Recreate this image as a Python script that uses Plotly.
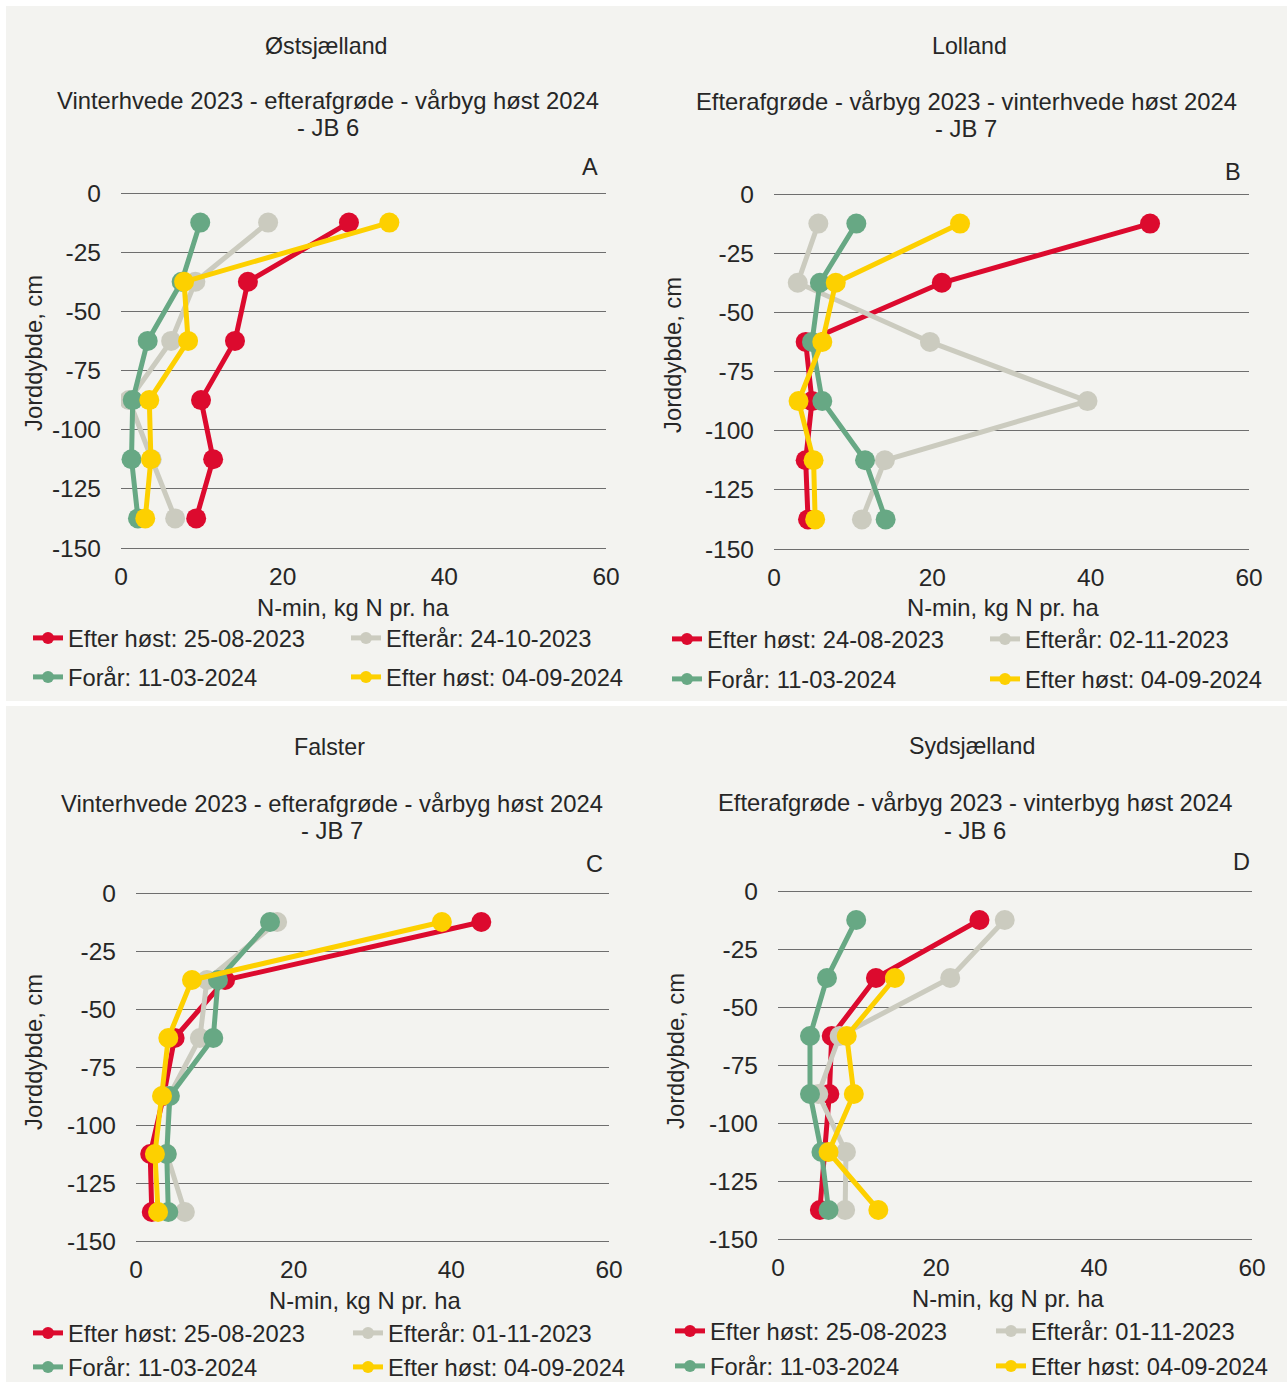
import plotly.graph_objects as go

W, H = 1287, 1382
FONT = "Liberation Sans, Arial, sans-serif"

depth = [-12.5, -37.5, -62.5, -87.5, -112.5, -137.5]

regions = ["Østsjælland", "Lolland", "Falster", "Sydsjælland"]
subtitles = [
    ["Vinterhvede 2023 - efterafgrøde - vårbyg høst 2024", "- JB 6"],
    ["Efterafgrøde - vårbyg 2023 - vinterhvede høst 2024", "- JB 7"],
    ["Vinterhvede 2023 - efterafgrøde - vårbyg høst 2024", "- JB 7"],
    ["Efterafgrøde - vårbyg 2023 - vinterbyg høst 2024", "- JB 6"],
]
letters = ["A", "B", "C", "D"]
x_title = "N-min, kg N pr. ha"
y_title = "Jorddybde, cm"

labels_A = ["Efter høst: 25-08-2023", "Efterår: 24-10-2023", "Forår: 11-03-2024", "Efter høst: 04-09-2024"]
labels_B = ["Efter høst: 24-08-2023", "Efterår: 02-11-2023", "Forår: 11-03-2024", "Efter høst: 04-09-2024"]
labels_C = ["Efter høst: 25-08-2023", "Efterår: 01-11-2023", "Forår: 11-03-2024", "Efter høst: 04-09-2024"]
labels_D = ["Efter høst: 25-08-2023", "Efterår: 01-11-2023", "Forår: 11-03-2024", "Efter høst: 04-09-2024"]

# N-min values, kg N pr. ha  (order: red, grey, green, yellow)
A_red = [28.2, 15.7, 14.1, 9.9, 11.4, 9.3]
A_grey = [18.2, 9.2, 6.2, 1.0, 3.8, 6.7]
A_green = [9.8, 7.5, 3.3, 1.45, 1.3, 2.1]
A_yellow = [33.2, 7.8, 8.3, 3.5, 3.7, 3.0]

B_red = [47.5, 21.2, 4.0, 4.8, 4.0, 4.3]
B_grey = [5.6, 3.0, 19.7, 39.6, 14.0, 11.1]
B_green = [10.4, 5.8, 4.8, 6.1, 11.5, 14.1]
B_yellow = [23.5, 7.8, 6.1, 3.1, 5.0, 5.2]

C_red = [43.8, 11.3, 4.9, 3.5, 1.8, 2.0]
C_grey = [17.9, 9.0, 8.1, 4.2, 3.9, 6.2]
C_green = [17.0, 10.4, 9.8, 4.3, 3.9, 4.1]
C_yellow = [38.8, 7.1, 4.1, 3.3, 2.4, 2.8]

D_red = [25.5, 12.4, 6.8, 6.5, 5.9, 5.3]
D_grey = [28.7, 21.8, 7.8, 5.1, 8.6, 8.5]
D_green = [9.9, 6.2, 4.05, 4.05, 5.5, 6.4]
D_yellow = [None, 14.8, 8.7, 9.6, 6.4, 12.7]

x_ticks = [0, 20, 40, 60]
y_ticks = [0, -25, -50, -75, -100, -125, -150]
y_ticktext = ["0", "-25", "-50", "-75", "-100", "-125", "-150"]

colors = ["#DC0A2E", "#CBCBBF", "#67A884", "#FDD000"]

panels = [
    (labels_A, [A_red, A_grey, A_green, A_yellow]),
    (labels_B, [B_red, B_grey, B_green, B_yellow]),
    (labels_C, [C_red, C_grey, C_green, C_yellow]),
    (labels_D, [D_red, D_grey, D_green, D_yellow]),
]

# layout geometry in pixels
plot_boxes = [  # x at 0, x at 60, y at 0, y at -150
    (121, 606, 193, 548),
    (774, 1249, 194, 549),
    (136, 609, 893, 1241),
    (778, 1252, 891, 1239),
]
title_pos = [(326, 46), (969, 46), (330, 747), (972, 746)]
sub_pos = [(328, 100, 128), (966, 101, 129), (332, 803, 830), (975, 802, 830)]
letter_pos = [(590, 167), (1233, 172), (594, 864), (1241, 862)]
xtitle_pos = [(353, 607), (1003, 608), (366, 1300), (1009, 1298)]
ytitle_pos = [(33, 353), (672, 355), (33, 1052), (675, 1051)]
legend_cols = [(68, 386), (707, 1025), (68, 388), (710, 1031)]
legend_rows = [(638, 677), (639, 679), (1333, 1367), (1331, 1366)]

BG = "#F3F3F0"
TXT = "#262626"
PADY = 1.0  # extra range (cm) so end gridlines are drawn

fig = go.Figure()
layout = dict(
    width=W, height=H, margin=dict(l=0, r=0, t=0, b=0, pad=0, autoexpand=False),
    paper_bgcolor=BG, plot_bgcolor="rgba(0,0,0,0)",
    font=dict(family=FONT, size=23, color=TXT),
    showlegend=True,
    shapes=[
        dict(type="rect", xref="paper", yref="paper", x0=0, x1=1, y0=1 - 6 / H, y1=1,
             fillcolor="white", line=dict(width=0), layer="below"),
        dict(type="rect", xref="paper", yref="paper", x0=0, x1=6 / W, y0=0, y1=1,
             fillcolor="white", line=dict(width=0), layer="below"),
        dict(type="rect", xref="paper", yref="paper", x0=0, x1=1, y0=1 - 706 / H, y1=1 - 701 / H,
             fillcolor="white", line=dict(width=0), layer="below"),
    ],
    annotations=[],
)


def add_text(text, px, py, size, angle=0):
    layout["annotations"].append(dict(
        text=text, x=px / W, y=1 - py / H, xref="paper", yref="paper",
        xanchor="center", yanchor="middle", showarrow=False, textangle=angle,
        font=dict(size=size, color=TXT)))


legend_idx = 0
for p, (labels, series) in enumerate(panels):
    ax = "" if p == 0 else str(p + 1)
    x0, x1, yt, yb = plot_boxes[p]
    ppu = (yb - yt) / 150.0
    ytop = yt - PADY * ppu
    ybot = yb + PADY * ppu
    layout["xaxis" + ax] = dict(
        domain=[x0 / W, x1 / W], anchor="y" + ax, range=[0, 60], tickvals=x_ticks,
        showgrid=False, zeroline=False, showline=False, ticks="", automargin=False,
        tickfont=dict(size=24.5, color=TXT), ticklabelstandoff=9,
    )
    layout["yaxis" + ax] = dict(
        domain=[1 - ybot / H, 1 - ytop / H], anchor="x" + ax, range=[-150 - PADY, PADY],
        tickvals=y_ticks, ticktext=y_ticktext, automargin=False,
        showgrid=True, gridcolor="#6E6E6E", gridwidth=1.3, zeroline=False, showline=False, ticks="",
        tickfont=dict(size=24.5, color=TXT), ticklabelstandoff=19,
    )
    add_text(regions[p], *title_pos[p], 23.2)
    sx, sy1, sy2 = sub_pos[p]
    add_text(subtitles[p][0], sx, sy1, 23.8)
    add_text(subtitles[p][1], sx, sy2, 23.8)
    add_text(letters[p], *letter_pos[p], 23.5)
    add_text(x_title, *xtitle_pos[p], 23.8)
    add_text(y_title, *ytitle_pos[p], 23.8, angle=-90)
    for s, (vals, lab, col) in enumerate(zip(series, labels, colors)):
        legend_idx += 1
        lname = "legend" if legend_idx == 1 else "legend%d" % legend_idx
        row, column = divmod(s, 2)
        txt_x = legend_cols[p][column]
        row_y = legend_rows[p][row]
        layout[lname] = dict(
            x=(txt_x - 40) / W, y=1 - row_y / H, xref="paper", yref="paper",
            xanchor="left", yanchor="middle", bgcolor="rgba(0,0,0,0)",
            font=dict(size=23.7, color=TXT), itemsizing="constant", orientation="v",
        )
        fig.add_trace(go.Scatter(
            x=vals, y=depth, mode="lines+markers", name=lab,
            line=dict(color=col, width=5), marker=dict(color=col, size=20),
            xaxis="x" + ax, yaxis="y" + ax, legend=lname, connectgaps=False,
            hoverinfo="x+y+name",
        ))

fig.update_layout(**layout)
fig.write_html("out.html")
